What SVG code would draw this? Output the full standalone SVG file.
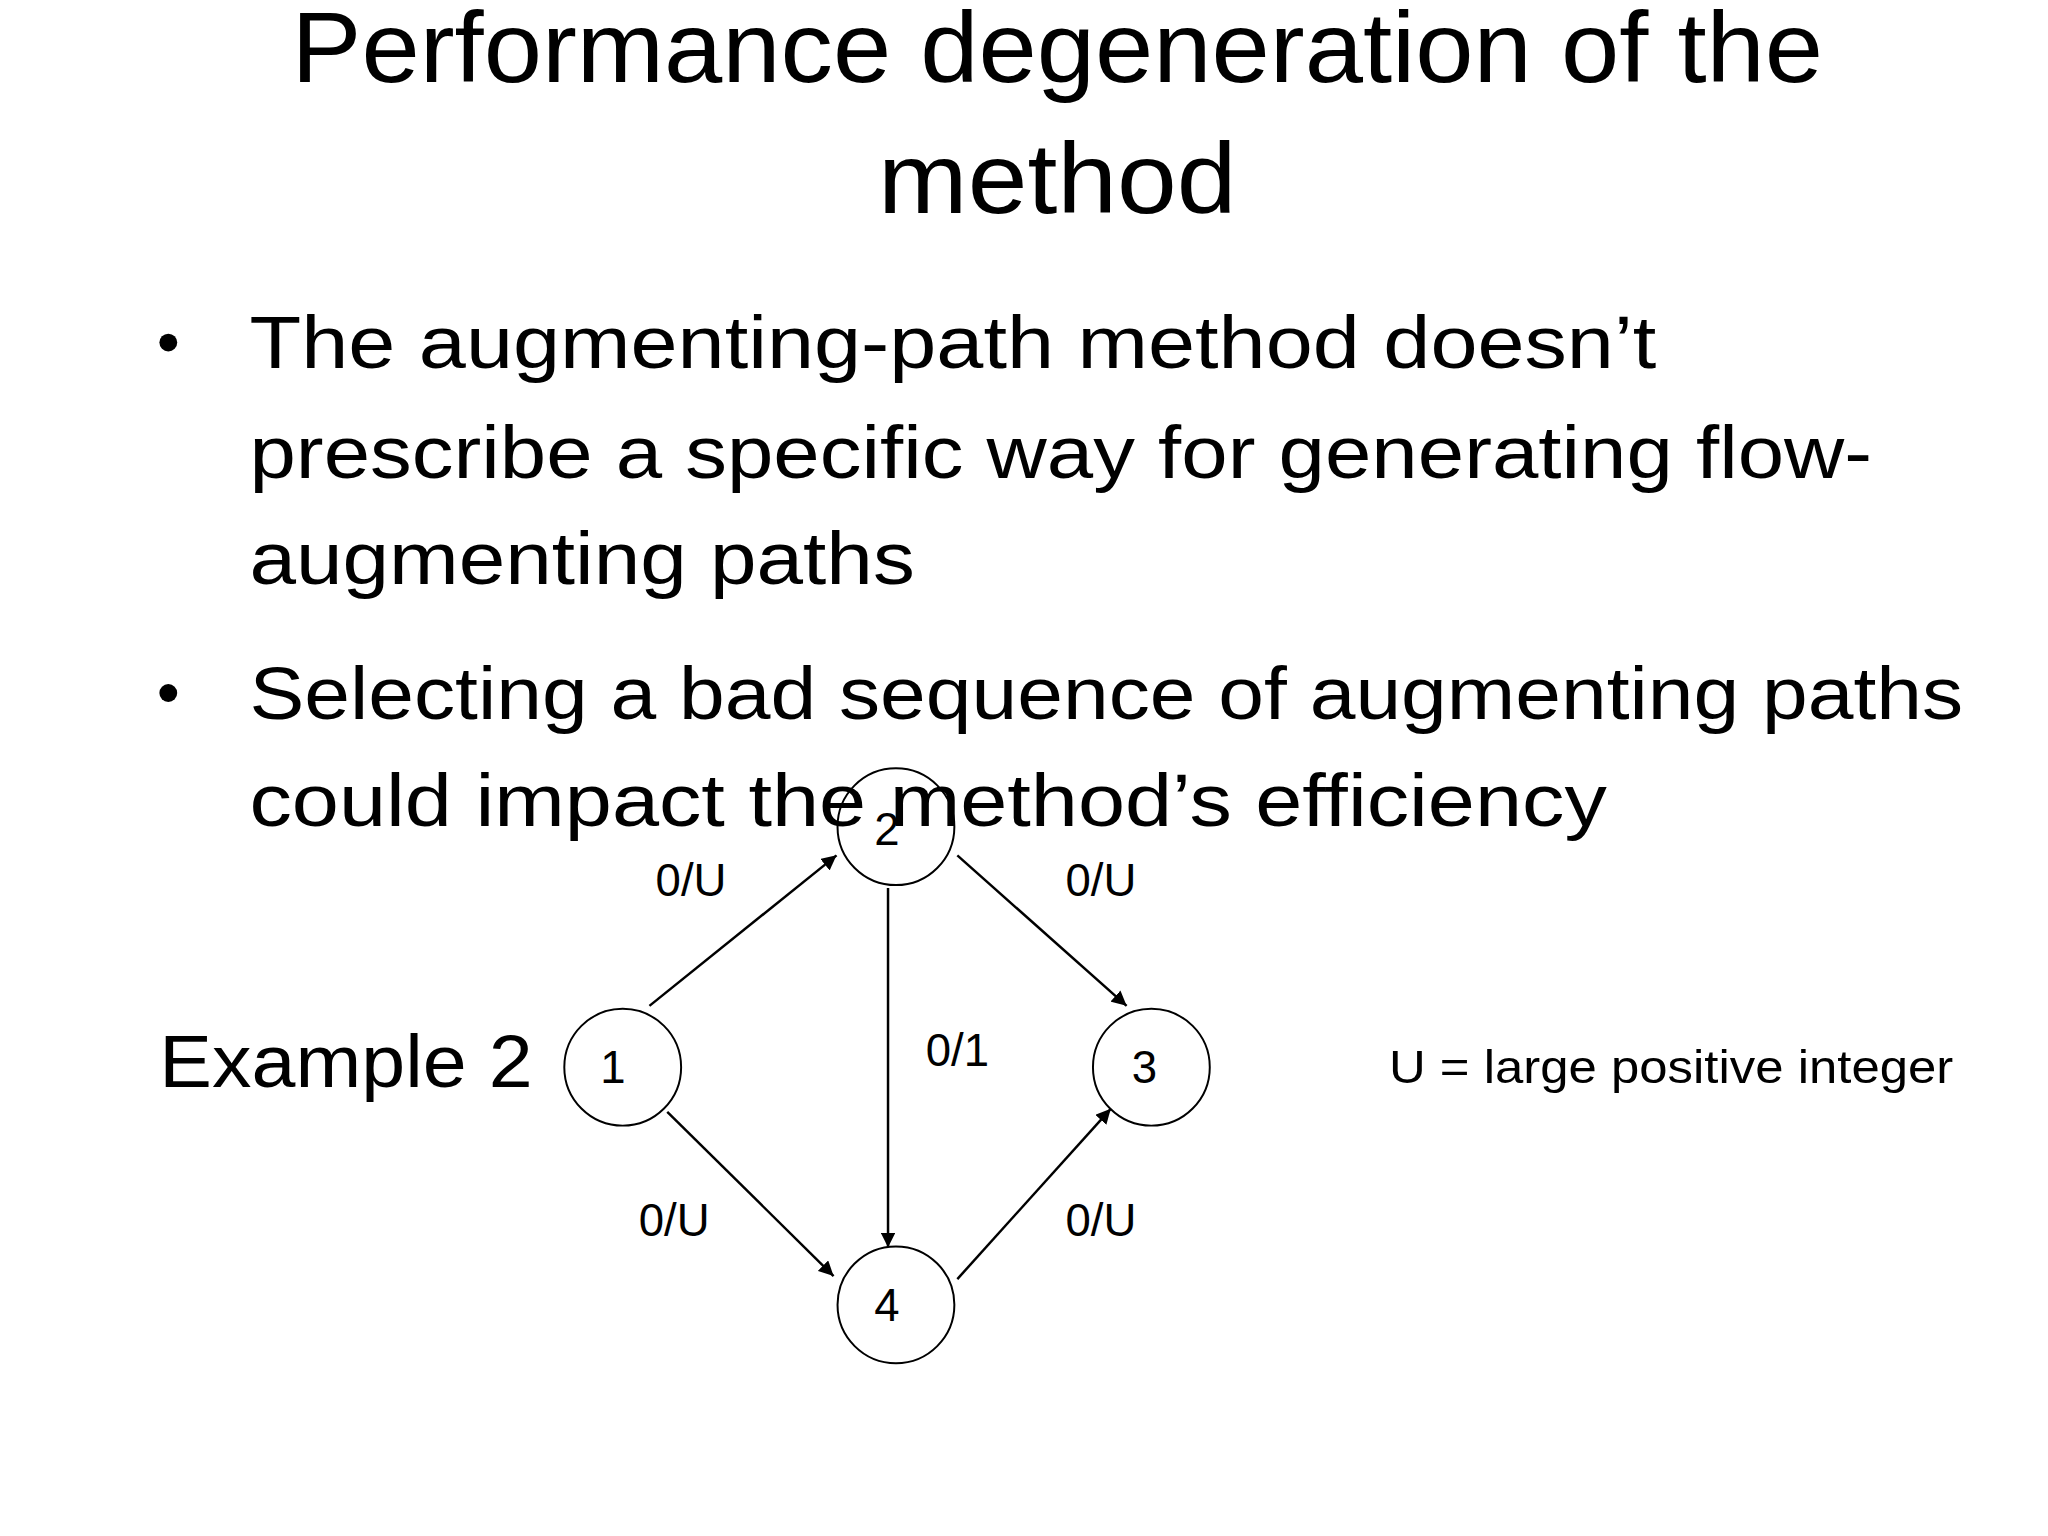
<svg xmlns="http://www.w3.org/2000/svg" width="2048" height="1536" viewBox="0 0 2048 1536">
<style>
.t{font-family:"Liberation Sans",Arial,sans-serif;fill:#000}
.big{font-size:101px}
.b{font-size:74px}
.s{font-size:46px}
.n{fill:#fff;stroke:#000;stroke-width:2}
.e{stroke:#000;stroke-width:2.5;fill:none;marker-end:url(#a)}
</style>
<defs><marker id="a" viewBox="0 0 10 10" refX="10" refY="5" markerWidth="6" markerHeight="6" orient="auto" markerUnits="strokeWidth"><path d="M0,0L10,5L0,10z" fill="#000"/></marker></defs>
<rect width="2048" height="1536" fill="#fff"/>
<g transform="scale(0.99)">
<text class="t big" x="1068" y="83" text-anchor="middle" textLength="1547" lengthAdjust="spacingAndGlyphs">Performance degeneration of the</text>
<text class="t big" x="1068" y="215" text-anchor="middle" textLength="362" lengthAdjust="spacingAndGlyphs">method</text>
<circle cx="170" cy="346" r="9"/>
<circle cx="170" cy="700" r="9"/>
<text class="t b" x="252" y="372" textLength="1421" lengthAdjust="spacingAndGlyphs">The augmenting-path method doesn’t</text>
<text class="t b" x="252" y="483" textLength="1639" lengthAdjust="spacingAndGlyphs">prescribe a specific way for generating flow-</text>
<text class="t b" x="252" y="590" textLength="672" lengthAdjust="spacingAndGlyphs">augmenting paths</text>
<text class="t b" x="252" y="726" textLength="1731" lengthAdjust="spacingAndGlyphs">Selecting a bad sequence of augmenting paths</text>
<text class="t b" x="252" y="834" textLength="1371" lengthAdjust="spacingAndGlyphs">could impact the method’s efficiency</text>
<text class="t b" x="161" y="1098" textLength="377" lengthAdjust="spacingAndGlyphs">Example 2</text>
<text class="t s" x="1403" y="1094" textLength="570" lengthAdjust="spacingAndGlyphs">U = large positive integer</text>
<g id="edges">
<line class="e" x1="656" y1="1016" x2="845" y2="864"/>
<line class="e" x1="967" y1="864" x2="1138" y2="1016"/>
<line class="e" x1="897" y1="897" x2="897" y2="1260"/>
<line class="e" x1="674" y1="1123" x2="842" y2="1289"/>
<line class="e" x1="967" y1="1292" x2="1122" y2="1120"/>
<text class="t s" x="698" y="905" text-anchor="middle">0/U</text>
<text class="t s" x="1112" y="905" text-anchor="middle">0/U</text>
<text class="t s" x="967" y="1077" text-anchor="middle">0/1</text>
<text class="t s" x="681" y="1249" text-anchor="middle">0/U</text>
<text class="t s" x="1112" y="1249" text-anchor="middle">0/U</text>
</g>
<g id="n1"><circle class="n" cx="629" cy="1078" r="59"/><text class="t s" x="619" y="1094" text-anchor="middle">1</text></g>
<g id="n2"><circle class="n" cx="905" cy="835" r="59" fill-opacity="0"/><text class="t s" x="896" y="854" text-anchor="middle">2</text></g>
<g id="n3"><circle class="n" cx="1163" cy="1078" r="59"/><text class="t s" x="1156" y="1094" text-anchor="middle">3</text></g>
<g id="n4"><circle class="n" cx="905" cy="1318" r="59"/><text class="t s" x="896" y="1334" text-anchor="middle">4</text></g>
</g>
</svg>
